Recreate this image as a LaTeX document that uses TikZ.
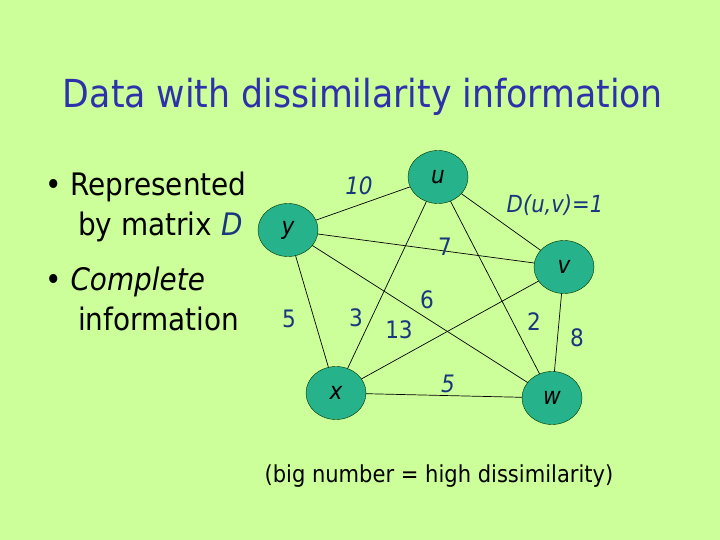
\documentclass[tikz,border=0pt]{standalone}
\usepackage{fontspec}
\setmainfont{DejaVu Sans Condensed}
\usepackage{xcolor}
\usetikzlibrary{positioning, shapes.geometric}
\definecolor{slidebg}{RGB}{204,255,153}
\definecolor{titleblue}{RGB}{45,50,170}
\definecolor{lblblue}{RGB}{25,55,125}
\definecolor{nodeteal}{RGB}{38,178,138}
\pgfdeclarelayer{slide}
\pgfdeclarelayer{edges}
\pgfsetlayers{slide,edges,main}

\begin{document}
\begin{tikzpicture}[
  x=1pt, y=-1pt,
  obj/.style={ellipse, draw=black!80!green, fill=nodeteal, minimum width=60pt, minimum height=53pt,
              inner sep=0pt, font=\fontsize{24}{24}\selectfont\itshape},
  dist/.style={font=\fontsize{24}{24}\selectfont, text=lblblue, inner sep=0pt},
  link/.style={draw=black, line width=0.7pt},
  bullet/.style={anchor=base west, inner sep=0pt, font=\fontsize{31}{31}\selectfont},
]
% --- background ---
\begin{pgfonlayer}{slide}
\fill[slidebg] (0,0) rectangle (720,540);
\end{pgfonlayer}
\useasboundingbox (0,0) rectangle (720,540);
% --- title ---
\node[font=\fontsize{38.6}{38.6}\selectfont, text=titleblue, anchor=base, inner sep=0pt] (title)
  at (363,108) {Data with dissimilarity information};
% --- bullets ---
\node[bullet] (b1) at (45,196) {\textbullet\ Represented};
\node[bullet] (b1b) at (78,236) {by matrix \textcolor{lblblue}{\itshape D}};
\node[bullet] (b2) at (45,290) {\textbullet\ \itshape Complete};
\node[bullet] (b2b) at (78,330) {information};
% --- objects ---
\node[obj] (u) at (438,177) {u};
\node[obj] (y) at (288,230) {y};
\node[obj] (v) at (564,267) {v};
\node[obj] (x) at (336,393) {x};
\node[obj] (w) at (552,398) {w};
% --- complete graph ---
\begin{pgfonlayer}{edges}
\foreach \a/\b in {u/y, u/v, u/x, u/w, y/v, y/w, y/x, v/x, v/w, x/w}
  \draw[link] (\a.center) -- (\b.center);
\end{pgfonlayer}
% --- distances ---
\node[dist, font=\fontsize{24}{24}\selectfont\itshape] (d10) at (359,186) {10};
\node[dist] (d7) at (445,247) {7};
\node[dist] (d6) at (427,300) {6};
\node[dist] (d5a) at (289,319) {5};
\node[dist] (d3) at (356,318) {3};
\node[dist] (d13) at (399,330) {13};
\node[dist] (d2) at (534,322) {2};
\node[dist] (d8) at (577,338) {8};
\node[dist, font=\fontsize{24}{24}\selectfont\itshape] (d5b) at (448,384) {5};
\node[dist, font=\fontsize{23.5}{23.5}\selectfont\itshape] (duv) at (555,205) {D(u,v)=1};
% --- note ---
\node[font=\fontsize{23.4}{23.4}\selectfont, anchor=base, inner sep=0pt] (note)
  at (439,482) {(big number = high dissimilarity)};
\end{tikzpicture}
\end{document}
